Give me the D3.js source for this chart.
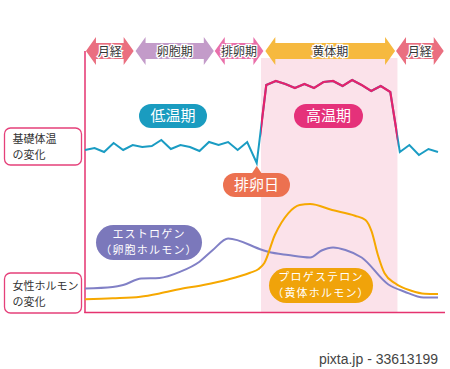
<!DOCTYPE html>
<html>
<head>
<meta charset="utf-8">
<script src="https://cdn.jsdelivr.net/npm/d3@7"></script>
<style>
  body { margin: 0; background: #fff; }
  svg { display: block; font-family: "Noto Sans CJK JP", "Noto Sans", sans-serif; }
</style>
</head>
<body>
<div id="chart"></div>
<script>
"use strict";

// ---- data ----
// cycle phases (start day, end day)
var phaseNames = ["月経", "卵胞期", "排卵期", "黄体期", "月経"];
var phaseStart = [0.1, 5.3, 13.6, 18.9, 32.6];
var phaseEnd = [5.1, 13.5, 18.7, 32.5, 37.6];
var phaseColors = ["#ea6f80", "#c39bc9", "#e96fa9", "#f6b93f", "#ea6f80"];

// high temperature band (days)
var bandDays = [18.45, 32.75];

// basal body temperature, one reading per day
var tempDays = d3.range(0, 38);
var tempValues = [
  36.20, 36.22, 36.18, 36.27, 36.20, 36.25, 36.23, 36.24, 36.30, 36.21,
  36.25, 36.23, 36.19, 36.28, 36.25, 36.28, 36.20, 36.28, 36.07,
  36.85, 36.89, 36.86, 36.82, 36.86, 36.82, 36.88, 36.89, 36.84, 36.90,
  36.85, 36.79, 36.84, 36.78,
  36.18, 36.25, 36.15, 36.21, 36.18
];
var ovulationDay = 18;

// hormone levels (relative)
var estrogenDays = [0, 2.9, 4.0, 5.9, 7.8, 10, 12, 13.4, 15, 18.6, 19.2, 21.3, 23.6, 24.8, 26.0, 27.3, 29.0, 31.8, 33.5, 35.5, 37];
var estrogenLevels = [11.5, 13, 15, 21.5, 22, 28.3, 38.3, 50, 61.5, 50, 48.3, 45, 42.5, 49.5, 52.5, 50, 42.5, 15.5, 8.3, 2.5, 2.5];
var progesteroneDays = [0, 2.9, 5.8, 7.9, 10, 12.4, 15, 17.3, 18.2, 18.8, 19.9, 21.3, 22.5, 23.6, 25.9, 28.3, 29.4, 30.05, 30.7, 31.4, 32.5, 34.2, 35.6, 37];
var progesteroneLevels = [0.7, 1.7, 3.3, 6.7, 11, 15, 20.5, 27.3, 31, 37, 65, 86.7, 95, 96, 90, 84.3, 80, 68.3, 45, 26.7, 16.7, 9.3, 6.3, 6];

var width = 450, height = 369;

var svg = d3.select("#chart").append("svg")
  .attr("width", width)
  .attr("height", height);

// scales
var x = d3.scaleLinear().domain([0, 37]).range([85, 438]);
var yTemp = d3.scaleLinear().domain([36.0, 37.0]).range([170, 70]);
var yHorm = d3.scaleLinear().domain([0, 100]).range([300, 200]);

var axisColor = "#e5336f";

// pink band for high temperature phase
svg.append("rect")
  .attr("x", x(bandDays[0]))
  .attr("y", 58)
  .attr("width", x(bandDays[1]) - x(bandDays[0]))
  .attr("height", 312 - 58)
  .attr("fill", "#fbe2ea");

// axes lines
svg.append("line")
  .attr("x1", 85).attr("x2", 85).attr("y1", 51).attr("y2", 313)
  .attr("stroke", axisColor).attr("stroke-width", 1.5);
svg.append("line")
  .attr("x1", 84.3).attr("x2", 445).attr("y1", 312.5).attr("y2", 312.5)
  .attr("stroke", axisColor).attr("stroke-width", 1.5);

// phase arrows
function arrowPath(x0, x1, cy) {
  var hl = 10, bh = 8, hh = 14;
  return "M" + x0 + "," + cy +
    "L" + (x0 + hl) + "," + (cy - hh) +
    "L" + (x0 + hl) + "," + (cy - bh) +
    "L" + (x1 - hl) + "," + (cy - bh) +
    "L" + (x1 - hl) + "," + (cy - hh) +
    "L" + x1 + "," + cy +
    "L" + (x1 - hl) + "," + (cy + hh) +
    "L" + (x1 - hl) + "," + (cy + bh) +
    "L" + (x0 + hl) + "," + (cy + bh) +
    "L" + (x0 + hl) + "," + (cy + hh) + "Z";
}

var arrows = svg.selectAll(".phase")
  .data(phaseNames)
  .enter()
  .append("g")
  .attr("class", "phase");

arrows.append("path")
  .attr("d", function(d, i) { return arrowPath(x(phaseStart[i]), x(phaseEnd[i]), 51); })
  .attr("fill", function(d, i) { return phaseColors[i]; });

arrows.append("text")
  .attr("x", function(d, i) { return (x(phaseStart[i]) + x(phaseEnd[i])) / 2; })
  .attr("y", 55.5)
  .attr("text-anchor", "middle")
  .attr("font-size", 12)
  .attr("fill", "#333")
  .attr("stroke", "#fff")
  .attr("stroke-width", 2.5)
  .attr("paint-order", "stroke")
  .text(function(d) { return d; });

// left labels
function leftBox(y0, h, lines, ys) {
  svg.append("rect")
    .attr("x", 4.5).attr("y", y0)
    .attr("width", 77).attr("height", h)
    .attr("rx", 6)
    .attr("fill", "#fff")
    .attr("stroke", "#e5407a")
    .attr("stroke-width", 1.3);
  lines.forEach(function(t, i) {
    svg.append("text")
      .attr("x", 12.5).attr("y", ys[i])
      .attr("font-size", 11)
      .attr("fill", "#333")
      .text(t);
  });
}
leftBox(128, 37, ["基礎体温", "の変化"], [143, 159]);
leftBox(273, 40, ["女性ホルモン", "の変化"], [289.5, 305.5]);

// temperature line
var tempData = tempDays.map(function(d, i) { return [d, tempValues[i]]; });
var tempLine = d3.line()
  .x(function(d) { return x(d[0]); })
  .y(function(d) { return yTemp(d[1]); });

svg.append("clipPath").attr("id", "bandClip")
  .append("rect")
  .attr("x", x(bandDays[0])).attr("y", 0)
  .attr("width", x(bandDays[1]) - x(bandDays[0]))
  .attr("height", height);

svg.append("path")
  .datum(tempData)
  .attr("d", tempLine)
  .attr("fill", "none")
  .attr("stroke", "#1a9cc3")
  .attr("stroke-width", 2)
  .attr("stroke-linejoin", "miter");

svg.append("path")
  .datum(tempData)
  .attr("d", tempLine)
  .attr("clip-path", "url(#bandClip)")
  .attr("fill", "none")
  .attr("stroke", "#e5226c")
  .attr("stroke-width", 2.2)
  .attr("stroke-linejoin", "miter");

// pill labels
function pill(cx, cy, w, h, color, lines, size, lineGap, spacing) {
  svg.append("rect")
    .attr("x", cx - w / 2).attr("y", cy - h / 2)
    .attr("width", w).attr("height", h)
    .attr("rx", h / 2)
    .attr("fill", color);
  lines.forEach(function(t, i) {
    svg.append("text")
      .attr("x", cx)
      .attr("y", cy + (i - (lines.length - 1) / 2) * lineGap + size * 0.36)
      .attr("text-anchor", "middle")
      .attr("font-size", size)
      .attr("letter-spacing", spacing || 0)
      .attr("fill", "#fff")
      .text(t);
  });
}

pill(173, 116, 68, 24, "#1a9cc0", ["低温期"], 15, 0);
pill(328.5, 116, 69, 24, "#e5317a", ["高温期"], 15, 0);

// ovulation day bubble with tail pointing to the dip
var dipX = x(ovulationDay), dipY = yTemp(tempValues[ovulationDay]);
svg.append("path")
  .attr("d", "M" + (dipX - 6) + ",175 L" + dipX + "," + (dipY + 3) + " L" + (dipX + 6) + ",175 Z")
  .attr("fill", "#ec7150");
pill(256.5, 185, 67, 24, "#ec7150", ["排卵日"], 15, 0);

// hormone curves
var estData = estrogenDays.map(function(d, i) { return [d, estrogenLevels[i]]; });
var proData = progesteroneDays.map(function(d, i) { return [d, progesteroneLevels[i]]; });
var hormLine = d3.line()
  .x(function(d) { return x(d[0]); })
  .y(function(d) { return yHorm(d[1]); })
  .curve(d3.curveMonotoneX);

svg.append("path")
  .datum(estData)
  .attr("d", hormLine)
  .attr("fill", "none")
  .attr("stroke", "#8180c6")
  .attr("stroke-width", 2);

svg.append("path")
  .datum(proData)
  .attr("d", hormLine)
  .attr("fill", "none")
  .attr("stroke", "#f6a800")
  .attr("stroke-width", 2);

pill(149, 242.5, 106, 35, "#7b78bb", ["エストロゲン", "（卵胞ホルモン）"], 11, 16, 1.2);
pill(321, 285.5, 104, 35, "#f0a30a", ["プロゲステロン", "（黄体ホルモン）"], 11, 16, 1.2);

// credit line
svg.append("text")
  .attr("x", 438).attr("y", 364)
  .attr("text-anchor", "end")
  .attr("font-size", 14)
  .attr("font-family", "Liberation Sans, Arial, sans-serif")
  .attr("fill", "#444")
  .text("pixta.jp - 33613199");
</script>
</body>
</html>
